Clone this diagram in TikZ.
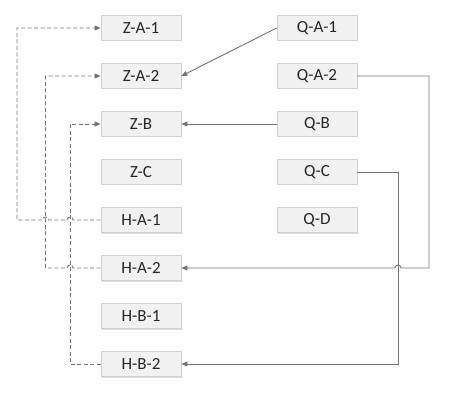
\documentclass[tikz,border=0pt]{standalone}
\usepackage{fontspec}
\setmainfont{Carlito}
\usetikzlibrary{arrows.meta,shadows}
\definecolor{boxfill}{HTML}{F2F1F2}
\definecolor{boxborder}{HTML}{CFCFCF}
\definecolor{linecol}{HTML}{737373}
\definecolor{textcol}{HTML}{262626}
\begin{document}
\begin{tikzpicture}[x=1pt,y=-1pt,
  box/.style={draw=boxborder, fill=boxfill, line width=0.8pt, minimum width=80pt, minimum height=25pt, inner sep=0pt,
    font=\fontsize{17}{19}\selectfont, text=textcol,
    drop shadow={shadow xshift=0.8pt, shadow yshift=-1pt, fill=black!25, opacity=0.6}},
  link/.style={draw=linecol, line width=0.9pt, -{Triangle[length=6pt,width=5pt]}},
  dlink/.style={link, dash pattern=on 4pt off 2.5pt}]
\useasboundingbox (0,0) rectangle (449,403);
\node[box] (ZA1) at (141,28) {Z-A-1};
\node[box] (ZA2) at (141,76) {Z-A-2};
\node[box] (ZB)  at (141,124) {Z-B};
\node[box] (ZC)  at (141,172) {Z-C};
\node[box] (HA1) at (141,220) {H-A-1};
\node[box] (HA2) at (141,268) {H-A-2};
\node[box] (HB1) at (141,316) {H-B-1};
\node[box] (HB2) at (141,364) {H-B-2};
\node[box] (QA1) at (317,28) {Q-A-1};
\node[box] (QA2) at (317,76) {Q-A-2};
\node[box] (QB)  at (317,124) {Q-B};
\node[box] (QC)  at (317,172) {Q-C};
\node[box] (QD)  at (317,220) {Q-D};
\coordinate (vA) at (17,0);
\coordinate (vB) at (45.5,0);
\coordinate (vC) at (70,0);
\coordinate (vD) at (398,0);
\coordinate (vE) at (429,0);
% dashed connectors
\draw[dlink] (HA1.west) -- ([xshift=3pt]HA1.west -| vC) arc[start angle=0,end angle=180,radius=3pt]
  -- ([xshift=3pt]HA1.west -| vB) arc[start angle=0,end angle=180,radius=3pt]
  -- (HA1.west -| vA) -- (ZA1.west -| vA) -- (ZA1.west);
\draw[dlink] (HA2.west) -- ([xshift=3pt]HA2.west -| vC) arc[start angle=0,end angle=180,radius=3pt]
  -- (HA2.west -| vB) -- (ZA2.west -| vB) -- (ZA2.west);
\draw[dlink] (HB2.west) -- (HB2.west -| vC) -- (ZB.west -| vC) -- (ZB.west);
% solid connectors
\draw[link] (QA1.west) -- (ZA2.east);
\draw[link] (QB.west) -- (ZB.east);
\draw[link] (QA2.east) -- (QA2.east -| vE) -- (HA2.east -| vE)
  -- ([xshift=3pt]HA2.east -| vD) arc[start angle=0,end angle=180,radius=3pt] -- (HA2.east);
\draw[link] (QC.east) -- (QC.east -| vD) -- (HB2.east -| vD) -- (HB2.east);
\end{tikzpicture}
\end{document}
